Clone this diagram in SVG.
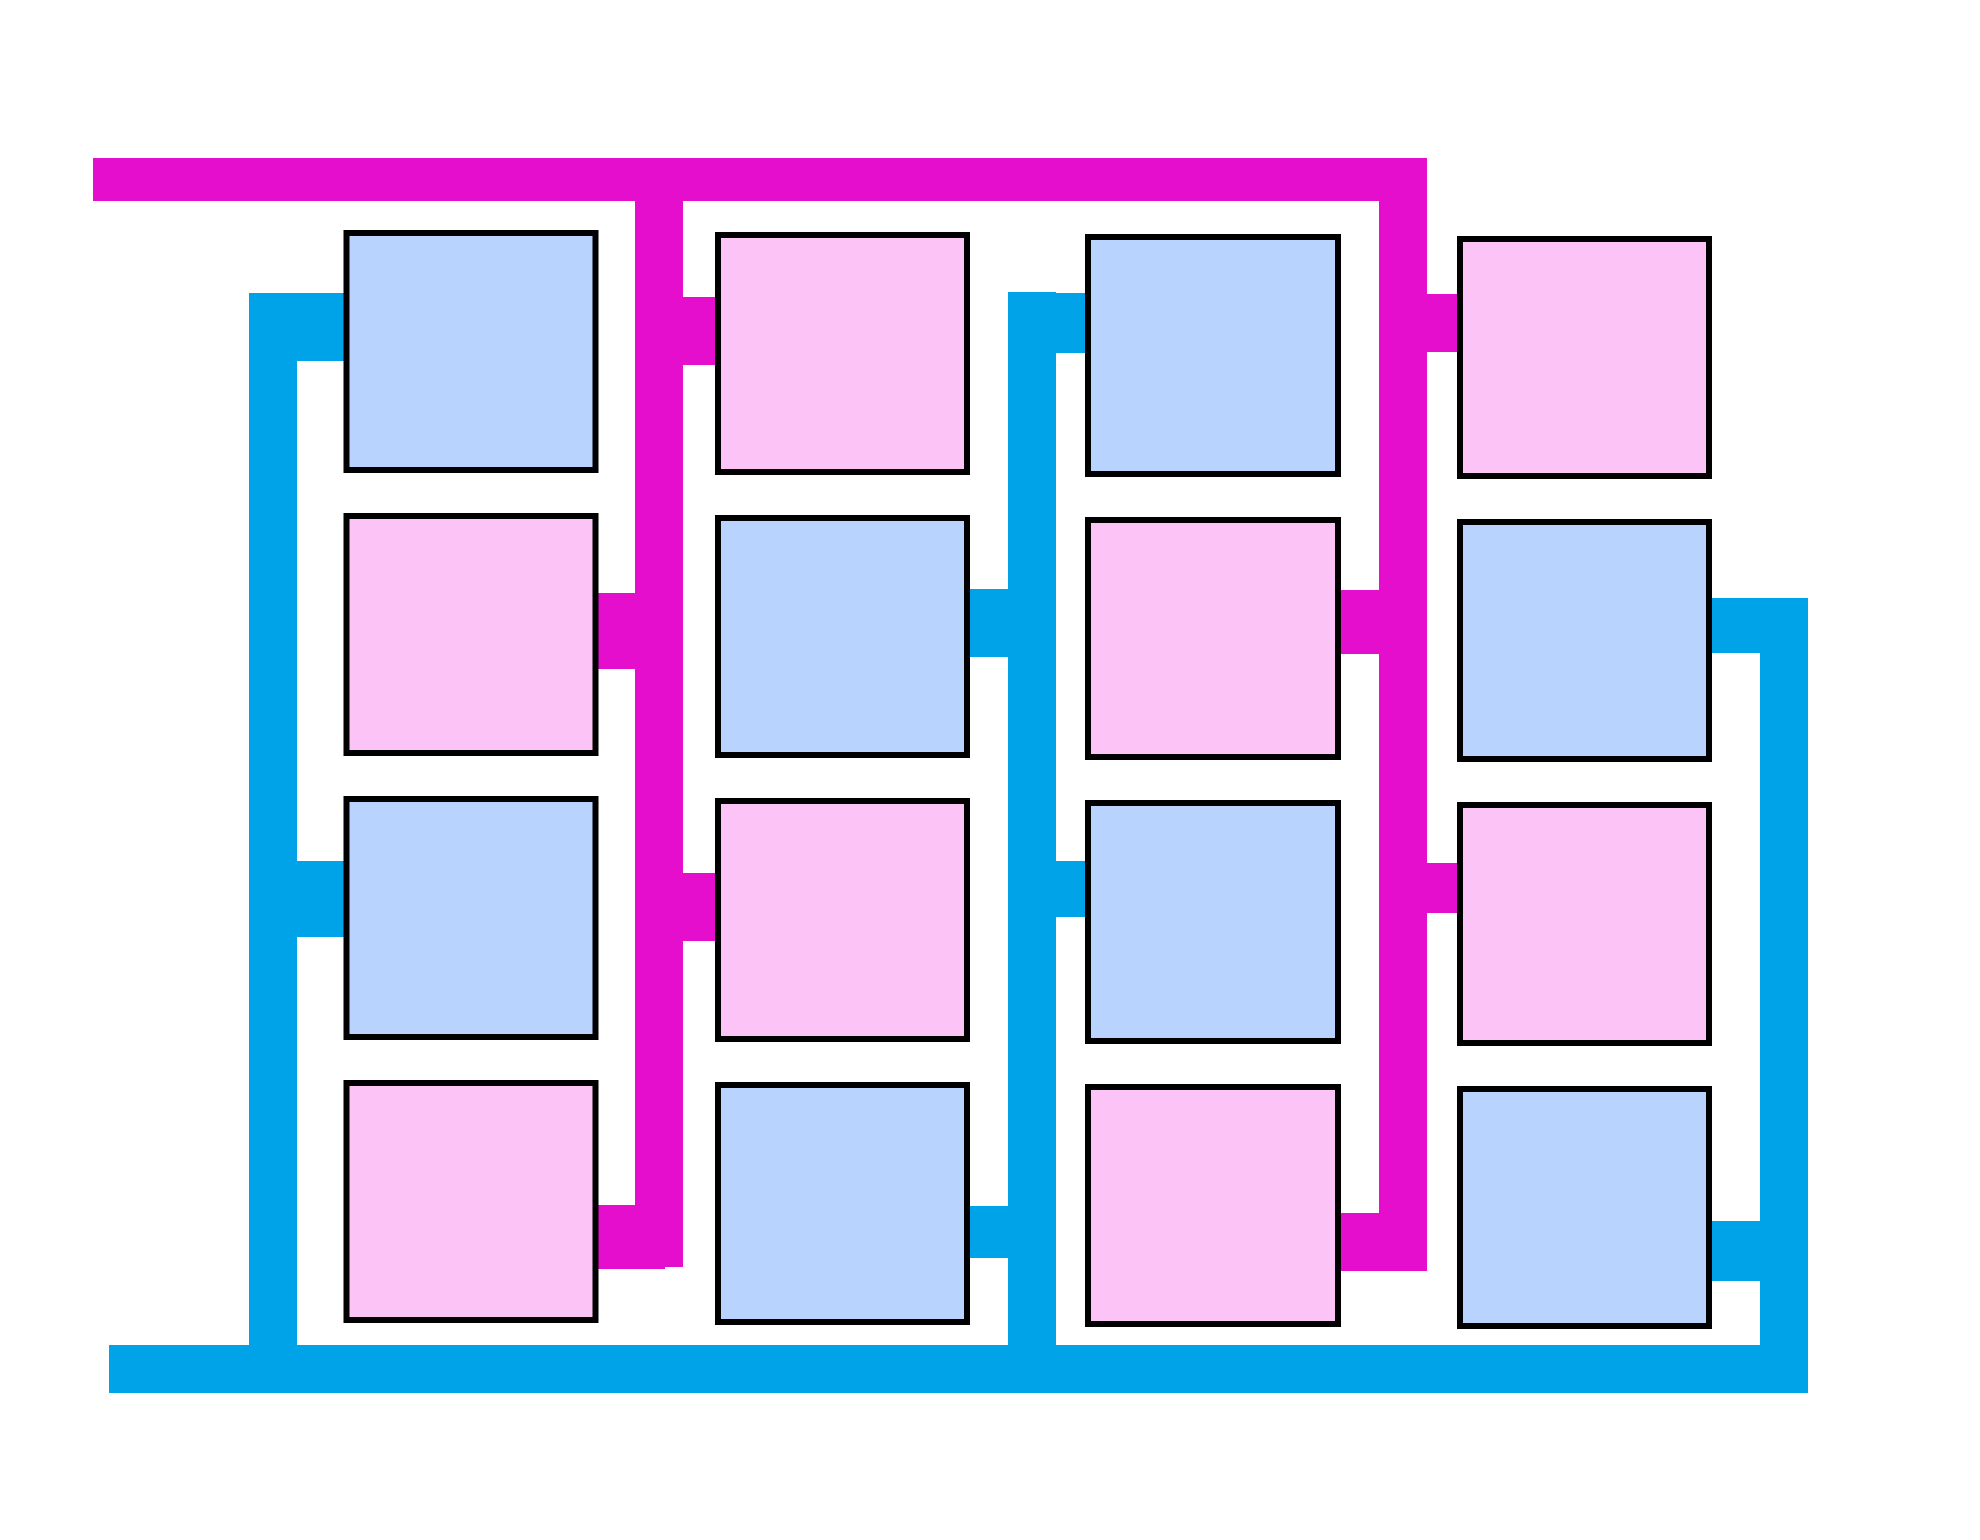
<svg xmlns="http://www.w3.org/2000/svg" width="1980" height="1540" viewBox="0 0 1980 1540">
<style>
.m{fill:#E40ECC}
.b{fill:#00A3E8}
.nb{fill:#B8D3FE;stroke:#000;stroke-width:6}
.np{fill:#FCC3F6;stroke:#000;stroke-width:6}
</style>
<rect width="1980" height="1540" fill="#fff"/>
<g id="connectors">
<rect class="m" x="93" y="158" width="1334" height="43"/>
<rect class="m" x="635" y="158" width="48" height="1109"/>
<rect class="m" x="1379" y="158" width="48" height="1113"/>
<rect class="m" x="683" y="297" width="34" height="68"/>
<rect class="m" x="596" y="593" width="40" height="76"/>
<rect class="m" x="683" y="873" width="32" height="68"/>
<rect class="m" x="596" y="1205" width="69" height="64"/>
<rect class="m" x="1427" y="294" width="32" height="58"/>
<rect class="m" x="1338" y="590" width="42" height="64"/>
<rect class="m" x="1427" y="863" width="30" height="50"/>
<rect class="m" x="1338" y="1213" width="89" height="58"/>
<rect class="b" x="109" y="1345" width="1699" height="48"/>
<rect class="b" x="249" y="293" width="48" height="1100"/>
<rect class="b" x="249" y="293" width="97" height="68"/>
<rect class="b" x="297" y="861" width="47" height="76"/>
<rect class="b" x="1008" y="292" width="48" height="1101"/>
<rect class="b" x="1056" y="293" width="32" height="60"/>
<rect class="b" x="967" y="589" width="41" height="68"/>
<rect class="b" x="1056" y="861" width="30" height="56"/>
<rect class="b" x="967" y="1206" width="41" height="52"/>
<rect class="b" x="1760" y="598" width="48" height="795"/>
<rect class="b" x="1710" y="598" width="50" height="55"/>
<rect class="b" x="1709" y="1221" width="51" height="60"/>
</g>
<g id="n11"><rect class="nb" x="346.5" y="233" width="249" height="237"/></g>
<g id="n12"><rect class="np" x="718" y="235" width="249" height="237"/></g>
<g id="n13"><rect class="nb" x="1088" y="237" width="250" height="237"/></g>
<g id="n14"><rect class="np" x="1460" y="239" width="249" height="237"/></g>
<g id="n21"><rect class="np" x="346.5" y="516" width="249" height="237"/></g>
<g id="n22"><rect class="nb" x="718" y="518" width="249" height="237"/></g>
<g id="n23"><rect class="np" x="1088" y="520" width="250" height="237"/></g>
<g id="n24"><rect class="nb" x="1460" y="522" width="249" height="237"/></g>
<g id="n31"><rect class="nb" x="346.5" y="799" width="249" height="238"/></g>
<g id="n32"><rect class="np" x="718" y="801" width="249" height="238"/></g>
<g id="n33"><rect class="nb" x="1088" y="803" width="250" height="238"/></g>
<g id="n34"><rect class="np" x="1460" y="805" width="249" height="238"/></g>
<g id="n41"><rect class="np" x="346.5" y="1083" width="249" height="237"/></g>
<g id="n42"><rect class="nb" x="718" y="1085" width="249" height="237"/></g>
<g id="n43"><rect class="np" x="1088" y="1087" width="250" height="237"/></g>
<g id="n44"><rect class="nb" x="1460" y="1089" width="249" height="237"/></g>
</svg>
